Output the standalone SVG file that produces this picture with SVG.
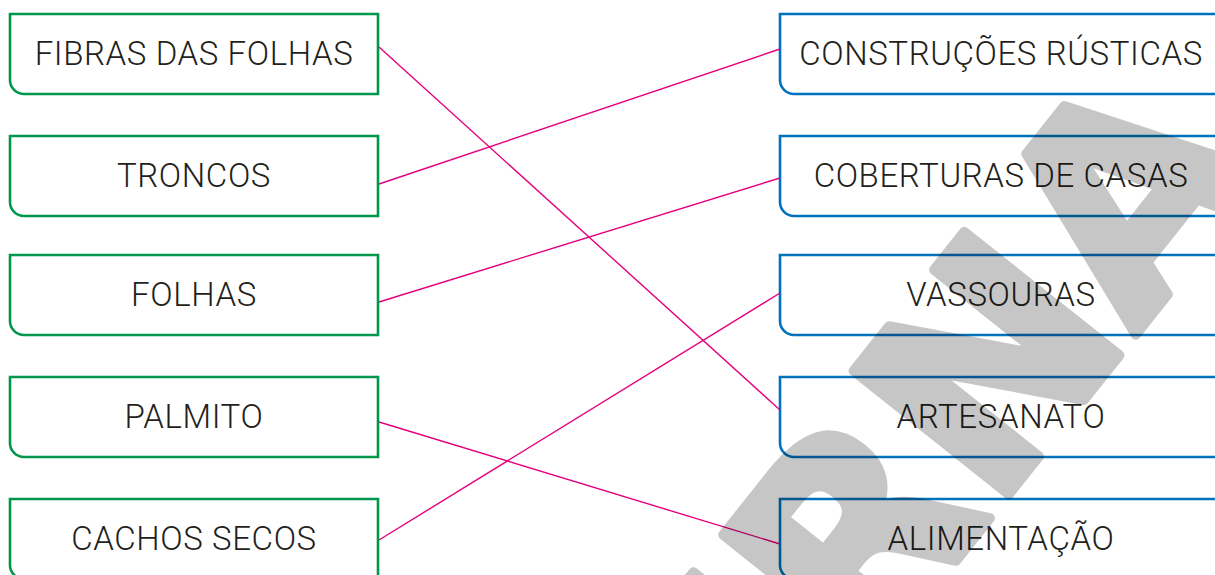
<svg xmlns="http://www.w3.org/2000/svg" width="1215" height="575" viewBox="0 0 1215 575">
  <style>
    .lbox { fill: #ffffff; stroke: #00964b; stroke-width: 2.6; }
    .rbox { fill: #ffffff; stroke: #0071bb; stroke-width: 2.6; }
    .lbl { font-family: Roboto, "Liberation Sans", Arial, sans-serif; font-weight: 300; font-size: 33px; letter-spacing: 0.6px; fill: #231f20; text-anchor: middle; }
    .conn line { stroke: #e6007e; stroke-width: 1.4; fill: none; }
    .wm { font-family: "DejaVu Sans", "Liberation Sans", sans-serif; font-weight: bold; font-size: 272px; fill: #000; stroke: #000; stroke-width: 10; stroke-linejoin: round; }
  </style>
  <rect width="1215" height="575" fill="#ffffff"/>

  <g id="left-nodes">
    <g id="n-fibras">
      <path class="lbox" d="M10,14 H378 V94 H24 A14,14 0 0 1 10,80 Z"/>
      <text class="lbl" x="194" y="65">FIBRAS DAS FOLHAS</text>
    </g>
    <g id="n-troncos">
      <path class="lbox" d="M10,136 H378 V216 H24 A14,14 0 0 1 10,202 Z"/>
      <text class="lbl" x="194" y="187">TRONCOS</text>
    </g>
    <g id="n-folhas">
      <path class="lbox" d="M10,255 H378 V335 H24 A14,14 0 0 1 10,321 Z"/>
      <text class="lbl" x="194" y="306">FOLHAS</text>
    </g>
    <g id="n-palmito">
      <path class="lbox" d="M10,377 H378 V457 H24 A14,14 0 0 1 10,443 Z"/>
      <text class="lbl" x="194" y="428">PALMITO</text>
    </g>
    <g id="n-cachos">
      <path class="lbox" d="M10,499 H378 V579 H24 A14,14 0 0 1 10,565 Z"/>
      <text class="lbl" x="194" y="550">CACHOS SECOS</text>
    </g>
  </g>

  <g id="right-nodes">
    <g id="n-construcoes">
      <path class="rbox" d="M780,14 H1222 V94 H794 A14,14 0 0 1 780,80 Z"/>
      <text class="lbl" x="1001" y="65">CONSTRUÇÕES RÚSTICAS</text>
    </g>
    <g id="n-coberturas">
      <path class="rbox" d="M780,136 H1222 V216 H794 A14,14 0 0 1 780,202 Z"/>
      <text class="lbl" x="1001" y="187">COBERTURAS DE CASAS</text>
    </g>
    <g id="n-vassouras">
      <path class="rbox" d="M780,255 H1222 V335 H794 A14,14 0 0 1 780,321 Z"/>
      <text class="lbl" x="1001" y="306">VASSOURAS</text>
    </g>
    <g id="n-artesanato">
      <path class="rbox" d="M780,377 H1222 V457 H794 A14,14 0 0 1 780,443 Z"/>
      <text class="lbl" x="1001" y="428">ARTESANATO</text>
    </g>
    <g id="n-alimentacao">
      <path class="rbox" d="M780,499 H1222 V579 H794 A14,14 0 0 1 780,565 Z"/>
      <text class="lbl" x="1001" y="550">ALIMENTAÇÃO</text>
    </g>
  </g>

  <g id="connectors" class="conn">
    <line x1="379" y1="47" x2="780" y2="410"/>
    <line x1="379" y1="184" x2="780" y2="49"/>
    <line x1="379" y1="302" x2="780" y2="178"/>
    <line x1="379" y1="422" x2="780" y2="544"/>
    <line x1="379" y1="540" x2="780" y2="293"/>
  </g>

  <g id="watermark" opacity="0.22">
    <text class="wm" transform="translate(1266,171) rotate(-51.5)" text-anchor="end">MODERNA</text>
  </g>
</svg>
